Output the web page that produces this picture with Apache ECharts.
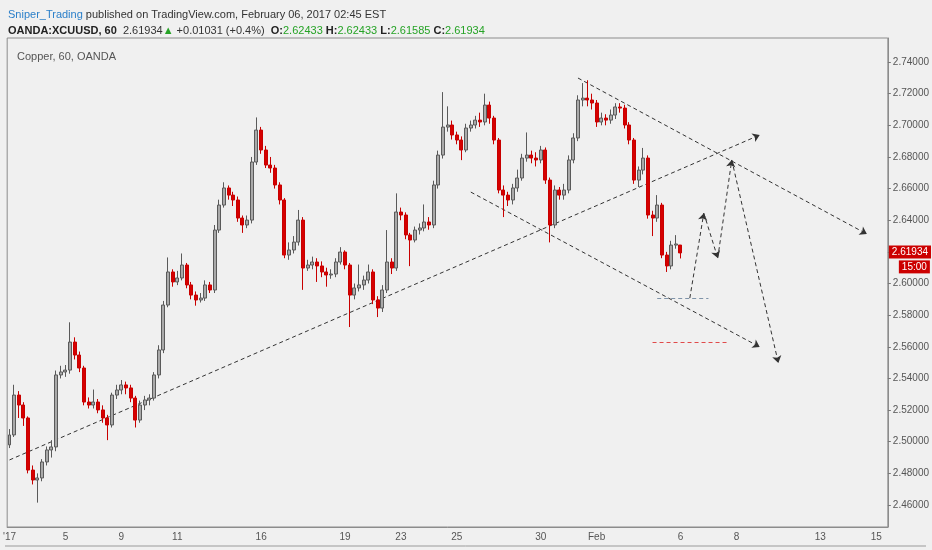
<!DOCTYPE html>
<html>
<head>
<meta charset="utf-8">
<title>Copper, 60, OANDA</title>
<script src="https://cdn.jsdelivr.net/npm/echarts@6.0.0/dist/echarts.min.js"></script>
<style>
  html, body { margin: 0; padding: 0; background: #f0f0f0; }
  #chart { width: 932px; height: 550px; }
</style>
</head>
<body>
<div id="chart"></div>
<script>
// 4-hour candles: [open, close, low, high]
var candles = [
  [2.4980,2.5043,2.4960,2.5080],[2.5043,2.5295,2.5030,2.5360],[2.5295,2.5232,2.5150,2.5320],
  [2.5232,2.5150,2.5100,2.5250],[2.5150,2.4821,2.4800,2.5160],[2.4821,2.4758,2.4730,2.4850],
  [2.4758,2.4771,2.4615,2.4800],[2.4771,2.4872,2.4750,2.4890],[2.4872,2.4948,2.4850,2.4970],
  [2.4948,2.4967,2.4900,2.5010],[2.4967,2.5422,2.4940,2.5450],[2.5422,2.5441,2.5400,2.5480],
  [2.5441,2.5453,2.5410,2.5485],[2.5453,2.5630,2.5430,2.5755],[2.5630,2.5548,2.5520,2.5660],
  [2.5548,2.5466,2.5440,2.5570],[2.5466,2.5251,2.5230,2.5480],[2.5251,2.5232,2.5210,2.5280],
  [2.5232,2.5251,2.5210,2.5330],[2.5251,2.5201,2.5180,2.5270],[2.5201,2.5150,2.5120,2.5230],
  [2.5150,2.5106,2.5010,2.5170],[2.5106,2.5295,2.5090,2.5310],[2.5295,2.5327,2.5270,2.5360],
  [2.5327,2.5359,2.5300,2.5390],[2.5359,2.5340,2.5300,2.5380],[2.5340,2.5276,2.5250,2.5360],
  [2.5276,2.5137,2.5090,2.5290],[2.5137,2.5232,2.5120,2.5260],[2.5232,2.5264,2.5200,2.5290],
  [2.5264,2.5276,2.5230,2.5300],[2.5276,2.5422,2.5260,2.5440],[2.5422,2.5580,2.5400,2.5610],
  [2.5580,2.5864,2.5560,2.5890],[2.5864,2.6073,2.5850,2.6165],[2.6073,2.6010,2.5980,2.6090],
  [2.6010,2.6035,2.5990,2.6080],[2.6035,2.6117,2.6020,2.6190],[2.6117,2.5991,2.5970,2.6130],
  [2.5991,2.5927,2.5900,2.6010],[2.5927,2.5896,2.5860,2.5950],[2.5896,2.5908,2.5880,2.5940],
  [2.5908,2.5991,2.5890,2.6020],[2.5991,2.5959,2.5940,2.6010],[2.5959,2.6338,2.5940,2.6370],
  [2.6338,2.6496,2.6320,2.6530],[2.6496,2.6604,2.6480,2.6640],[2.6604,2.6559,2.6530,2.6620],
  [2.6559,2.6528,2.6490,2.6580],[2.6528,2.6414,2.6390,2.6550],[2.6414,2.6370,2.6320,2.6430],
  [2.6370,2.6401,2.6350,2.6430],[2.6401,2.6768,2.6380,2.6800],[2.6768,2.6970,2.6750,2.7050],
  [2.6970,2.6844,2.6820,2.6990],[2.6844,2.6749,2.6730,2.6870],[2.6749,2.6730,2.6700,2.6800],
  [2.6730,2.6623,2.6600,2.6750],[2.6623,2.6528,2.6500,2.6640],[2.6528,2.6180,2.6160,2.6540],
  [2.6180,2.6212,2.6150,2.6260],[2.6212,2.6262,2.6190,2.6300],[2.6262,2.6401,2.6240,2.6465],
  [2.6401,2.6098,2.5960,2.6420],[2.6098,2.6117,2.6080,2.6150],[2.6117,2.6136,2.6090,2.6170],
  [2.6136,2.6111,2.6010,2.6160],[2.6111,2.6073,2.6040,2.6140],[2.6073,2.6054,2.5980,2.6100],
  [2.6054,2.6060,2.6030,2.6090],[2.6060,2.6136,2.6040,2.6160],[2.6136,2.6199,2.6120,2.6230],
  [2.6199,2.6117,2.6090,2.6210],[2.6117,2.5927,2.5725,2.6130],[2.5927,2.5972,2.5900,2.6000],
  [2.5972,2.5991,2.5950,2.6120],[2.5991,2.6022,2.5960,2.6050],[2.6022,2.6073,2.6000,2.6120],
  [2.6073,2.5896,2.5870,2.6090],[2.5896,2.5845,2.5788,2.5920],[2.5845,2.5959,2.5820,2.5990],
  [2.5959,2.6136,2.5940,2.6338],[2.6136,2.6098,2.6060,2.6160],[2.6098,2.6452,2.6080,2.6570],
  [2.6452,2.6433,2.6400,2.6480],[2.6433,2.6307,2.6280,2.6450],[2.6307,2.6275,2.6110,2.6320],
  [2.6275,2.6338,2.6260,2.6360],[2.6338,2.6351,2.6310,2.6380],[2.6351,2.6389,2.6330,2.6500],
  [2.6389,2.6370,2.6340,2.6420],[2.6370,2.6623,2.6350,2.6650],[2.6623,2.6812,2.6600,2.6840],
  [2.6812,2.6989,2.6790,2.7210],[2.6989,2.7002,2.6960,2.7120],[2.7002,2.6939,2.6910,2.7030],
  [2.6939,2.6907,2.6880,2.6960],[2.6907,2.6844,2.6780,2.6930],[2.6844,2.6983,2.6830,2.7010],
  [2.6983,2.7002,2.6960,2.7030],[2.7002,2.7033,2.6980,2.7060],[2.7033,2.7021,2.6990,2.7080],
  [2.7021,2.7128,2.7000,2.7200],[2.7128,2.7046,2.7010,2.7150],[2.7046,2.6907,2.6880,2.7060],
  [2.6907,2.6591,2.6570,2.6920],[2.6591,2.6559,2.6420,2.6620],[2.6559,2.6528,2.6490,2.6580],
  [2.6528,2.6604,2.6500,2.6630],[2.6604,2.6667,2.6580,2.6720],[2.6667,2.6793,2.6650,2.6820],
  [2.6793,2.6812,2.6770,2.6955],[2.6812,2.6793,2.6760,2.6840],[2.6793,2.6781,2.6740,2.6830],
  [2.6781,2.6844,2.6760,2.6870],[2.6844,2.6654,2.6630,2.6860],[2.6654,2.6370,2.6260,2.6670],
  [2.6370,2.6591,2.6350,2.6620],[2.6591,2.6559,2.6530,2.6610],[2.6559,2.6591,2.6530,2.6630],
  [2.6591,2.6781,2.6570,2.6810],[2.6781,2.6920,2.6760,2.6950],[2.6920,2.7160,2.6900,2.7190],
  [2.7160,2.7172,2.7120,2.7267],[2.7172,2.7160,2.7120,2.7285],[2.7160,2.7141,2.7100,2.7200],
  [2.7141,2.7021,2.6990,2.7160],[2.7021,2.7046,2.7000,2.7080],[2.7046,2.7033,2.7000,2.7070],
  [2.7033,2.7065,2.7010,2.7100],[2.7065,2.7116,2.7040,2.7140],[2.7116,2.7109,2.7080,2.7140],
  [2.7109,2.7002,2.6980,2.7130],[2.7002,2.6907,2.6880,2.7020],[2.6907,2.6654,2.6630,2.6920],
  [2.6654,2.6717,2.6610,2.6740],[2.6717,2.6793,2.6690,2.6857],[2.6793,2.6433,2.6410,2.6810],
  [2.6433,2.6414,2.6300,2.6460],[2.6414,2.6496,2.6390,2.6559],[2.6496,2.6180,2.6160,2.6510],
  [2.6180,2.6111,2.6073,2.6200],[2.6111,2.6243,2.6090,2.6270],[2.6243,2.6250,2.6220,2.6306],
  [2.62433,2.61934,2.61585,2.62433]
];

var slotsPerDay = 6;
var totalSlots = 189;          // visible range incl. empty future space
var xTickDays = [0, 2, 4, 6, 9, 12, 14, 16, 19, 21, 24, 26, 29, 31];
var xTickLabels = ["'17", '5', '9', '11', '16', '19', '23', '25', '30', 'Feb', '6', '8', '13', '15'];
var yTicks = [2.46, 2.48, 2.50, 2.52, 2.54, 2.56, 2.58, 2.60, 2.62, 2.64, 2.66, 2.68, 2.70, 2.72, 2.74];
var yMin = 2.4461, yMax = 2.7552;
var lastPrice = 2.61934;

// drawings: [slotIndex, price]
var trendLines = [
  [[0, 2.4885], [161, 2.6939]],
  [[122, 2.7299], [184, 2.6313]],
  [[99, 2.6578], [161, 2.5599]]
];
var forecastPath = [[146, 2.5908], [149, 2.6445], [152, 2.6161], [155, 2.6781], [165, 2.5498]];
var supportLine = [[139, 2.5908], [150, 2.5908]];
var targetLine = [[138, 2.5630], [154, 2.5630]];

var categories = [];
for (var i = 0; i < totalSlots; i++) categories.push(String(i));
var labelAt = {};
xTickDays.forEach(function (d, k) { labelAt[d * slotsPerDay] = xTickLabels[k]; });

var font = "'Liberation Sans Narrow', 'Liberation Sans', Arial, sans-serif";

var segs = [];
trendLines.forEach(function (l) { segs.push({ coords: l }); });
for (var j = 0; j < forecastPath.length - 1; j++) segs.push({ coords: [forecastPath[j], forecastPath[j + 1]] });

var option = {
  backgroundColor: '#f0f0f0',
  animation: false,
  title: [{
    left: 3, top: 4,
    text: '{u|Sniper_Trading}{n| published on TradingView.com, February 06, 2017 02:45 EST}',
    textStyle: { fontWeight: 'normal', rich: {
      u: { color: '#2a7fc9', fontSize: 11, fontFamily: font },
      n: { color: '#333', fontSize: 11, fontFamily: font }
    } }
  }, {
    left: 3, top: 20,
    text: '{b|OANDA:XCUUSD, 60}{n|  2.61934}{g|▲}{n| +0.01031 (+0.4%)  }{b|O:}{g|2.62433}{b| H:}{g|2.62433}{b| L:}{g|2.61585}{b| C:}{g|2.61934}',
    textStyle: { fontWeight: 'normal', rich: {
      b: { color: '#222', fontSize: 11, fontWeight: 'bold', fontFamily: font },
      n: { color: '#333', fontSize: 11, fontFamily: font },
      g: { color: '#26a326', fontSize: 11, fontFamily: font }
    } }
  }, {
    left: 12, top: 46,
    text: 'Copper, 60, OANDA',
    textStyle: { color: '#555', fontSize: 11, fontWeight: 'normal', fontFamily: font }
  }],
  grid: { left: 6, right: 40, top: 38, bottom: 23, show: true, borderColor: '#8c8c8c', borderWidth: 1, backgroundColor: '#f0f0f0' },
  xAxis: {
    type: 'category',
    data: categories,
    boundaryGap: true,
    axisLine: { lineStyle: { color: '#8c8c8c' } },
    axisTick: { alignWithLabel: true, length: 3, lineStyle: { color: '#777' },
      interval: function (idx) { return labelAt[idx] !== undefined; } },
    axisLabel: { color: '#555', fontSize: 10, fontFamily: font, margin: 5, hideOverlap: false,
      interval: function (idx) { return labelAt[idx] !== undefined; },
      formatter: function (v, idx) { return labelAt[idx] || ''; } },
    splitLine: { show: false }
  },
  yAxis: {
    type: 'value',
    position: 'right',
    min: yMin, max: yMax,
    scale: true,
    axisLine: { show: true, lineStyle: { color: '#8c8c8c' } },
    axisTick: { show: true, length: 3, customValues: yTicks, lineStyle: { color: '#777' } },
    axisLabel: { color: '#555', fontSize: 10, fontFamily: font, margin: 5, customValues: yTicks,
      formatter: function (v) { return v.toFixed(5); } },
    splitLine: { show: false }
  },
  series: [{
    type: 'candlestick',
    data: candles,
    barWidth: '75%',
    itemStyle: {
      color: '#a9a9a9', borderColor: '#5a5a5a',
      color0: '#d60000', borderColor0: '#c80000',
      borderWidth: 1
    },
    markLine: {
      silent: true, symbol: 'none',
      lineStyle: { color: 'rgba(0,0,0,0)', width: 0 },
      data: [{
        yAxis: lastPrice,
        label: { show: true, position: 'end', distance: 1, formatter: lastPrice.toFixed(5),
          color: '#fff', backgroundColor: '#cc0000', padding: [2, 3, 1, 3], fontSize: 10, fontFamily: font }
      }, {
        yAxis: lastPrice,
        label: { show: true, position: 'end', distance: 11, offset: [0, 15], formatter: '15:00',
          color: '#fff', backgroundColor: '#cc0000', padding: [2, 3, 1, 3], fontSize: 10, fontFamily: font }
      }]
    }
  }, {
    type: 'lines',
    coordinateSystem: 'cartesian2d',
    silent: true,
    symbol: ['none', 'arrow'],
    symbolSize: 7,
    lineStyle: { color: '#333', width: 1, type: [4, 3], opacity: 1 },
    data: segs
  }, {
    type: 'lines',
    coordinateSystem: 'cartesian2d',
    silent: true,
    symbol: 'none',
    lineStyle: { color: '#7f93a8', width: 1, type: [4, 3], opacity: 1 },
    data: [{ coords: supportLine }]
  }, {
    type: 'lines',
    coordinateSystem: 'cartesian2d',
    silent: true,
    symbol: 'none',
    lineStyle: { color: '#e04a4a', width: 1, type: [4, 3], opacity: 1 },
    data: [{ coords: targetLine }]
  }],
  graphic: [{
    type: 'line', silent: true,
    shape: { x1: 5, y1: 546, x2: 926, y2: 546 },
    style: { stroke: '#9a9a9a', lineWidth: 1 }
  }]
};

var chart = echarts.init(document.getElementById('chart'));
chart.setOption(option);
</script>
</body>
</html>
